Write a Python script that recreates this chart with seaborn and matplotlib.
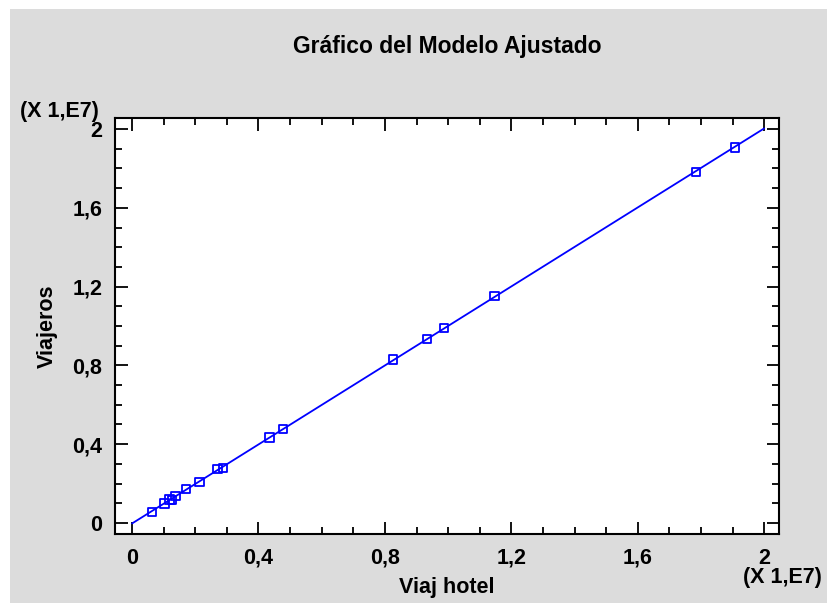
import numpy as np
import pandas as pd
import matplotlib
matplotlib.use("Agg")
import matplotlib.pyplot as plt
import matplotlib.patches as mpatches
from matplotlib.ticker import MultipleLocator, FuncFormatter
import seaborn as sns

# Data (values in units of 1E7)
viaj_hotel = [0.063, 0.102, 0.118, 0.127, 0.137, 0.171, 0.214, 0.270, 0.288,
              0.434, 0.477, 0.825, 0.933, 0.987, 1.146, 1.784, 1.908]
viajeros = [0.056, 0.100, 0.120, 0.117, 0.136, 0.173, 0.208, 0.273, 0.279,
            0.433, 0.477, 0.831, 0.935, 0.990, 1.152, 1.782, 1.907]
scale = 1e7

df = pd.DataFrame({"x": np.array(viaj_hotel) * scale, "y": np.array(viajeros) * scale})

sns.set_theme(style="white")
plt.rcParams["font.family"] = ["Liberation Sans", "DejaVu Sans"]
plt.rcParams["font.weight"] = "bold"
plt.rcParams["text.color"] = "black"
plt.rcParams["axes.labelcolor"] = "black"

FS = 15.5

fig = plt.figure(figsize=(8.27, 6.03), dpi=100)
fig.patch.set_facecolor("white")
fig.patches.append(mpatches.Rectangle((10 / 827, 0), 1, 1 - 9 / 603, transform=fig.transFigure,
                                      facecolor="#dcdcdc", edgecolor="none", zorder=-10))
ax = fig.add_axes([115 / 827, 1 - 534 / 603, (779 - 115) / 827, (534 - 118) / 603])
ax.set_facecolor("white")

# fitted line
coef = np.polyfit(df["x"], df["y"], 1)
line_x = np.array([0, 2.0]) * scale
line_df = pd.DataFrame({"x": line_x, "y": np.polyval(coef, line_x)})
sns.lineplot(data=line_df, x="x", y="y", ax=ax, color="#0000ff", linewidth=1.3, zorder=2)
sns.scatterplot(data=df, x="x", y="y", ax=ax, marker="s", s=38, facecolor="none",
                edgecolor="#0000ff", linewidth=1.3, zorder=3)

ax.set_xlim(-0.054 * scale, 2.047 * scale)
ax.set_ylim(-0.056 * scale, 2.056 * scale)

fmt = FuncFormatter(lambda v, p: ("%g" % round(v / scale, 2)).replace(".", ","))
ax.xaxis.set_major_locator(MultipleLocator(0.4 * scale))
ax.yaxis.set_major_locator(MultipleLocator(0.4 * scale))
ax.xaxis.set_minor_locator(MultipleLocator(0.1 * scale))
ax.yaxis.set_minor_locator(MultipleLocator(0.1 * scale))
ax.xaxis.set_major_formatter(fmt)
ax.yaxis.set_major_formatter(fmt)

ax.tick_params(which="both", direction="in", top=True, right=True, bottom=True, left=True,
               color="black", width=1.3, labelsize=FS, labelcolor="black")
ax.tick_params(which="major", length=9)
ax.tick_params(axis="y", which="major", pad=9)
ax.tick_params(axis="x", which="major", pad=10)
ax.tick_params(which="minor", length=5)
for lab in ax.get_xticklabels() + ax.get_yticklabels():
    lab.set_fontweight("bold")

for sp in ax.spines.values():
    sp.set_visible(True)
    sp.set_color("black")
    sp.set_linewidth(1.5)

ax.set_xlabel("Viaj hotel", fontsize=FS, fontweight="bold", color="black")
ax.set_ylabel("Viajeros", fontsize=FS, fontweight="bold", color="black")
ax.xaxis.set_label_coords(0.5, (534 - 587) / 416)
ax.xaxis.label.set_va("center")
ax.yaxis.set_label_coords((47 - 115) / 664, 0.5)
ax.yaxis.label.set_va("center")
fig.text(447 / 827, 1 - 47 / 603, "Gráfico del Modelo Ajustado", ha="center", va="center",
         fontsize=FS + 1, fontweight="bold", color="black")
fig.text(20 / 827, 1 - 112 / 603, "(X 1,E7)", ha="left", va="center", fontsize=FS,
         fontweight="bold", color="black")
fig.text(822 / 827, 1 - 578 / 603, "(X 1,E7)", ha="right", va="center", fontsize=FS,
         fontweight="bold", color="black")

fig.savefig("out.png", dpi=100)
